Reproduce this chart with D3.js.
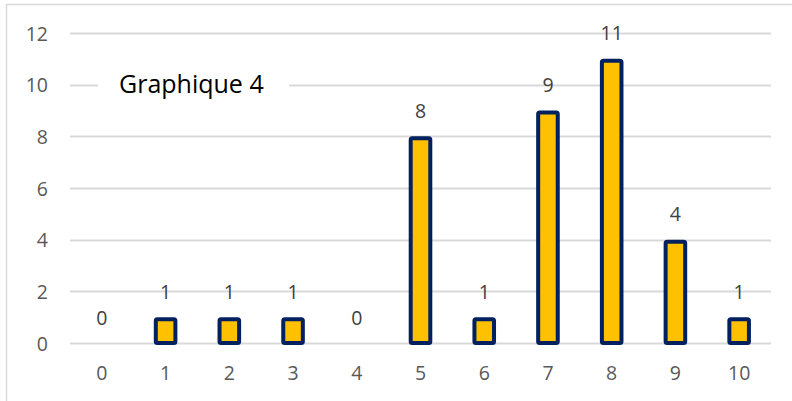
<!DOCTYPE html>
<html>
<head>
<meta charset="utf-8">
<script src="https://cdn.jsdelivr.net/npm/d3@7"></script>
<style>
  html, body { margin: 0; padding: 0; background: #fff; }
  svg { display: block; }
</style>
</head>
<body>
<svg id="chart" width="792" height="401"></svg>
<script>
// Frequency of each score
const categories = ["0", "1", "2", "3", "4", "5", "6", "7", "8", "9", "10"];
const values = [0, 1, 1, 1, 0, 8, 1, 9, 11, 4, 1];
const yTicks = [0, 2, 4, 6, 8, 10, 12];
const chartTitle = "Graphique 4";

const svg = d3.select("#chart");
const W = 792, H = 401;
const margin = { left: 70, right: 21, top: 33, bottom: 58 };
const font = "'Open Sans', sans-serif";

// outer frame (top and left edges visible)
svg.append("line").attr("x1", 6).attr("x2", W).attr("y1", 4.5).attr("y2", 4.5)
  .attr("stroke", "#d9d9d9").attr("stroke-width", 1.5);
svg.append("line").attr("x1", 6.5).attr("x2", 6.5).attr("y1", 4).attr("y2", H)
  .attr("stroke", "#d9d9d9").attr("stroke-width", 1.5);

const x = d3.scaleBand()
  .domain(categories)
  .range([margin.left, W - margin.right])
  .paddingInner(0.63)
  .paddingOuter(0.315);

const y = d3.scaleLinear()
  .domain([0, 12])
  .range([H - margin.bottom, margin.top]);

// horizontal gridlines
svg.append("g")
  .selectAll("line")
  .data(yTicks)
  .join("line")
  .attr("x1", margin.left)
  .attr("x2", W - margin.right)
  .attr("y1", d => Math.round(y(d)) + 0.5)
  .attr("y2", d => Math.round(y(d)) + 0.5)
  .attr("stroke", "#d9d9d9")
  .attr("stroke-width", 2);

// y axis labels
const yAxis = d3.axisLeft(y).tickValues(yTicks).tickSize(0).tickPadding(0);
const gy = svg.append("g")
  .attr("transform", `translate(${margin.left - 22},0)`)
  .call(yAxis);
gy.select(".domain").remove();
gy.selectAll("text")
  .attr("font-family", font)
  .attr("font-size", 19.5)
  .attr("fill", "#595959")
  .attr("dy", "0.36em");

// x axis labels
const xAxis = d3.axisBottom(x).tickSize(0).tickPadding(0);
const gx = svg.append("g")
  .attr("transform", `translate(0,${H - margin.bottom})`)
  .call(xAxis);
gx.select(".domain").remove();
gx.selectAll("text")
  .attr("font-family", font)
  .attr("font-size", 19.5)
  .attr("fill", "#595959")
  .attr("dy", null)
  .attr("y", 37);

// bars
const barStroke = 4;
svg.append("g")
  .selectAll("rect")
  .data(values.map((v, i) => ({ c: categories[i], v })).filter(d => d.v > 0))
  .join("rect")
  .attr("x", d => x(d.c) + barStroke / 2)
  .attr("width", x.bandwidth() - barStroke)
  .attr("y", d => y(d.v) + barStroke / 2)
  .attr("height", d => y(0) - y(d.v) - barStroke / 2)
  .attr("rx", 1.5)
  .attr("fill", "#ffc000")
  .attr("stroke", "#002060")
  .attr("stroke-width", barStroke);

// data labels
svg.append("g")
  .selectAll("text")
  .data(values.map((v, i) => ({ c: categories[i], v })))
  .join("text")
  .attr("x", d => x(d.c) + x.bandwidth() / 2)
  .attr("y", d => y(d.v) - 18.5)
  .attr("text-anchor", "middle")
  .attr("font-family", font)
  .attr("font-size", 19.5)
  .attr("fill", "#404040")
  .text(d => d.v);

// title box over the gridlines
svg.append("rect")
  .attr("x", 98).attr("y", 68).attr("width", 191).attr("height", 34)
  .attr("fill", "#fff");
svg.append("text")
  .attr("x", 119).attr("y", 93)
  .attr("font-family", font)
  .attr("font-size", 25)
  .attr("fill", "#000")
  .text(chartTitle);
</script>
</body>
</html>
